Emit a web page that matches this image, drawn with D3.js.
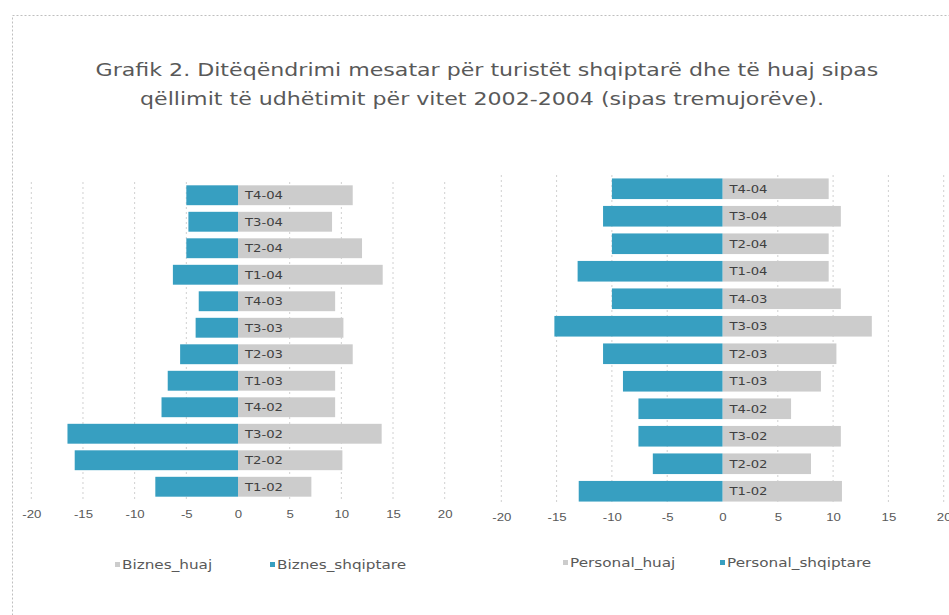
<!DOCTYPE html>
<html>
<head>
<meta charset="utf-8">
<script src="https://cdn.jsdelivr.net/npm/d3@7"></script>
<style>
  body { margin: 0; background: #fff; }
  svg { display: block; font-family: "DejaVu Sans", sans-serif; }
</style>
</head>
<body>
<script>
// quarters, bottom to top
const quarters = ['T1-02', 'T2-02', 'T3-02', 'T4-02', 'T1-03', 'T2-03', 'T3-03', 'T4-03', 'T1-04', 'T2-04', 'T3-04', 'T4-04'];

const biznesShqiptare = [-8.0, -15.8, -16.5, -7.4, -6.8, -5.6, -4.1, -3.8, -6.3, -5.0, -4.8, -5.0];
const biznesHuaj      = [7.1, 10.1, 13.9, 9.4, 9.4, 11.1, 10.2, 9.4, 14.0, 12.0, 9.1, 11.1];

const personalShqiptare = [-13.0, -6.3, -7.6, -7.6, -9.0, -10.8, -15.2, -10.0, -13.1, -10.0, -10.8, -10.0];
const personalHuaj      = [10.8, 8.0, 10.7, 6.2, 8.9, 10.3, 13.5, 10.7, 9.6, 9.6, 10.7, 9.6];

const xTicks = [-20, -15, -10, -5, 0, 5, 10, 15, 20];

const titleLines = [
  'Grafik 2. Ditëqëndrimi mesatar për turistët shqiptarë dhe të huaj sipas',
  'qëllimit të udhëtimit për vitet 2002-2004 (sipas tremujorëve).'
];

const blue = '#379fc1';
const grey = '#cccccc';
const textCol = '#595959';

const width = 949, height = 615;

// the original font is much wider than DejaVu, so widen the text a bit
function widen(sel, k){
  sel.each(function(){
    const w = this.getComputedTextLength();
    d3.select(this)
      .attr('textLength', w * k)
      .attr('lengthAdjust', 'spacingAndGlyphs');
  });
}

const svg = d3.select('body').append('svg')
              .attr('width', width)
              .attr('height', height);

// dotted frame of the chart area (runs off the picture at right/bottom)
svg.append('rect')
   .attr('x', 12.5).attr('y', 15.5)
   .attr('width', 960).attr('height', 640)
   .attr('fill', 'none')
   .attr('stroke', '#bfbfbf')
   .attr('stroke-dasharray', '2,2');

const title = svg.append('g')
   .selectAll('text')
   .data(titleLines)
   .enter()
   .append('text')
   .attr('x', (d, i) => i === 0 ? 487 : 482)
   .attr('y', (d, i) => 76 + i * 29)
   .attr('text-anchor', 'middle')
   .attr('fill', textCol)
   .style('font-size', '17px')
   .text(d => d);
widen(title, 1.3);

function drawPanel(p){
  const x = d3.scaleLinear().domain([-20, 20]).range([p.x0, p.x1]);
  const y = d3.scaleBand().domain(quarters.slice().reverse()).range([p.y0, p.y1]).paddingInner(0.25).paddingOuter(0.125);
  const g = svg.append('g');

  // dotted vertical gridlines
  g.append('g')
   .selectAll('line')
   .data(xTicks.filter(t => t !== 0))
   .enter()
   .append('line')
   .attr('x1', d => x(d)).attr('x2', d => x(d))
   .attr('y1', p.y0).attr('y2', p.y1)
   .attr('stroke', '#d0d0d0')
   .attr('stroke-dasharray', '2,3');

  g.append('g')
   .selectAll('rect')
   .data(quarters.map((q, i) => ({q: q, v: p.huaj[i]})))
   .enter()
   .append('rect')
   .attr('x', x(0))
   .attr('y', d => y(d.q))
   .attr('width', d => x(d.v) - x(0))
   .attr('height', y.bandwidth())
   .attr('fill', grey);

  g.append('g')
   .selectAll('rect')
   .data(quarters.map((q, i) => ({q: q, v: p.shq[i]})))
   .enter()
   .append('rect')
   .attr('x', d => x(d.v))
   .attr('y', d => y(d.q))
   .attr('width', d => x(0) - x(d.v))
   .attr('height', y.bandwidth())
   .attr('fill', blue);

  // category labels sit on the zero axis
  const cats = g.append('g')
   .selectAll('text')
   .data(quarters)
   .enter()
   .append('text')
   .attr('x', x(0) + 7)
   .attr('y', d => y(d) + y.bandwidth() / 2)
   .attr('dy', '0.35em')
   .attr('fill', '#3f3f3f')
   .style('font-size', '11px')
   .text(d => d);
  widen(cats, 1.2);

  const axis = d3.axisBottom(x).tickValues(xTicks).tickFormat(d => String(d)).tickSize(0).tickPadding(0);
  const ax = g.append('g')
              .attr('transform', `translate(0,${p.axisY})`)
              .call(axis);
  ax.select('.domain').remove();
  ax.selectAll('text')
    .attr('fill', textCol)
    .style('font-size', '11px');
  widen(ax.selectAll('text'), 1.2);

  // legend
  const leg = g.append('g').attr('transform', `translate(0,${p.legY})`);
  p.legend.forEach(item => {
    leg.append('rect')
       .attr('x', item.x).attr('y', -3)
       .attr('width', 5).attr('height', 5)
       .attr('fill', item.color);
    const t = leg.append('text')
       .attr('x', item.x + 7)
       .attr('y', 0)
       .attr('dy', '0.35em')
       .attr('fill', textCol)
       .style('font-size', '12px')
       .text(item.label);
    widen(t, 1.27);
  });
}

drawPanel({
  x0: 31.3, x1: 444.7, y0: 182, y1: 500, axisY: 510, legY: 565,
  shq: biznesShqiptare, huaj: biznesHuaj,
  legend: [
    {x: 115, color: grey, label: 'Biznes_huaj'},
    {x: 270, color: blue, label: 'Biznes_shqiptare'}
  ]
});

drawPanel({
  x0: 501.3, x1: 943.7, y0: 175, y1: 505, axisY: 513, legY: 563,
  shq: personalShqiptare, huaj: personalHuaj,
  legend: [
    {x: 563, color: grey, label: 'Personal_huaj'},
    {x: 720, color: blue, label: 'Personal_shqiptare'}
  ]
});
</script>
</body>
</html>
